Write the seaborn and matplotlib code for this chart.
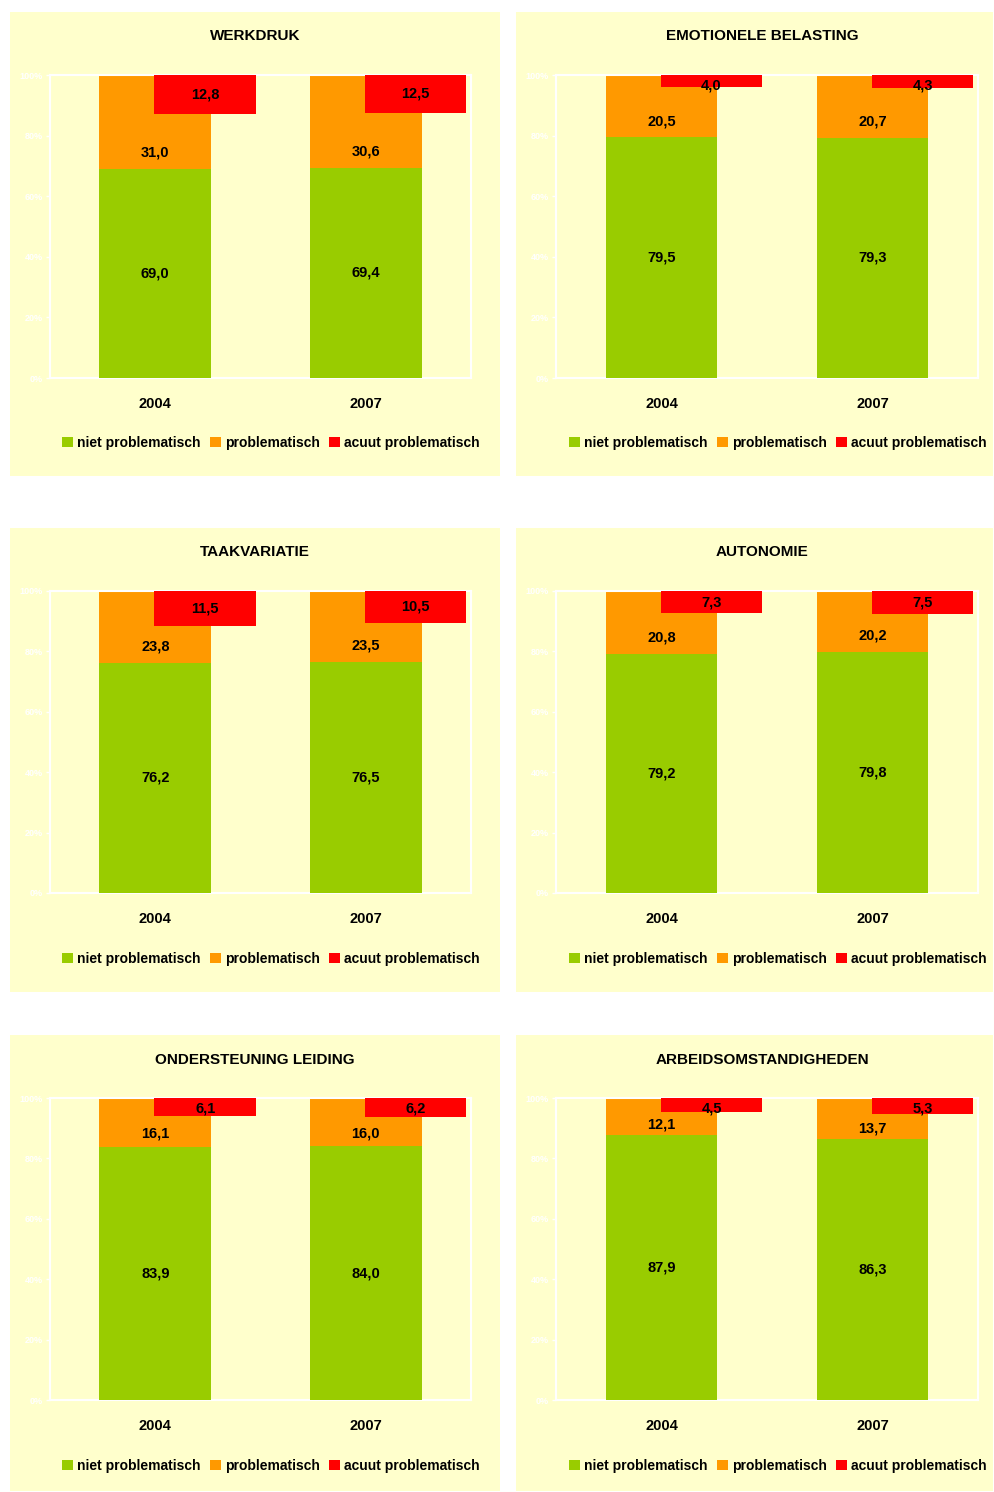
import numpy as np
import pandas as pd
import seaborn as sns
import matplotlib.pyplot as plt
from matplotlib import font_manager as fm
from matplotlib.patches import Rectangle, Patch

# data
themes = ["WERKDRUK", "EMOTIONELE BELASTING", "TAAKVARIATIE",
          "AUTONOMIE", "ONDERSTEUNING LEIDING", "ARBEIDSOMSTANDIGHEDEN"]
years = ["2004", "2007"]
niet = [[69.0, 69.4], [79.5, 79.3], [76.2, 76.5], [79.2, 79.8], [83.9, 84.0], [87.9, 86.3]]
probl = [[31.0, 30.6], [20.5, 20.7], [23.8, 23.5], [20.8, 20.2], [16.1, 16.0], [12.1, 13.7]]
acuut = [[12.8, 12.5], [4.0, 4.3], [11.5, 10.5], [7.3, 7.5], [6.1, 6.2], [4.5, 5.3]]
series_names = ["niet problematisch", "problematisch", "acuut problematisch"]
yticks = [0, 20, 40, 60, 80, 100]

GREEN = "#99CC00"
ORANGE = "#FF9900"
RED = "#FF0000"
BG = "#FFFFCC"

# narrow bold font if there is one
try:
    fm.findfont(fm.FontProperties(family="Liberation Sans Narrow"), fallback_to_default=False)
    NARROW = ["Liberation Sans Narrow", "DejaVu Sans"]
    nsize, lsize = 12, 11.5
except ValueError:
    NARROW = ["Liberation Sans", "DejaVu Sans"]
    nsize, lsize = 10.5, 10
WIDE = ["Liberation Sans", "DejaVu Sans"]

plt.rcParams["font.family"] = NARROW
plt.rcParams["font.weight"] = "bold"

W, H = 994, 1492
fig = plt.figure(figsize=(W / 100, H / 100), dpi=100)
fig.patch.set_facecolor("white")


def px_rect(x0, y0, x1, y1):
    return [x0 / W, 1 - y1 / H, (x1 - x0) / W, (y1 - y0) / H]


# panel layout (pixels)
col_panel = [(10, 500), (516, 993)]
col_axes = [(50, 471), (556, 978)]
col_title = [255, 762]
col_legend = [271, 778]
row_panel = [(12, 476), (528, 992), (1035, 1491)]
row_axes = [(75, 378), (591, 893), (1098, 1400)]
row_title = [36, 552, 1060]
row_legend = [443, 959, 1466]


def fmt(v):
    return f"{v:.1f}".replace(".", ",")


for k, theme in enumerate(themes):
    r, c = divmod(k, 2)
    px0, px1 = col_panel[c]
    py0, py1 = row_panel[r]
    fig.patches.append(Rectangle((px0 / W, 1 - py1 / H), (px1 - px0) / W, (py1 - py0) / H,
                                 transform=fig.transFigure, facecolor=BG, edgecolor="none",
                                 zorder=-10))

    ax = fig.add_axes(px_rect(col_axes[c][0], row_axes[r][0], col_axes[c][1], row_axes[r][1]))
    ax.set_facecolor(BG)

    df = pd.DataFrame({"jaar": years, "niet": niet[k], "probl": probl[k], "acuut": acuut[k]})
    df["totaal"] = df["niet"] + df["probl"]

    sns.barplot(data=df, x="jaar", y="totaal", color=ORANGE, saturation=1,
                width=0.53, ax=ax, linewidth=0, zorder=2)
    sns.barplot(data=df, x="jaar", y="niet", color=GREEN, saturation=1,
                width=0.53, ax=ax, linewidth=0, zorder=3)
    xpos = np.arange(len(years))
    ax.bar(xpos + 0.237, df["acuut"], width=0.483, bottom=100 - df["acuut"],
           color=RED, linewidth=0, zorder=4)

    for i in range(len(years)):
        g, o, a = df["niet"][i], df["probl"][i], df["acuut"][i]
        ax.text(i, g / 2, fmt(g), ha="center", va="center", fontsize=nsize, zorder=5)
        ax.text(i, g + min(5.3, 0.27 * o), fmt(o), ha="center", va="center", fontsize=nsize, zorder=5)
        ax.text(i + 0.237, 100 - max(a / 2, 3.5), fmt(a), ha="center", va="center",
                fontsize=nsize, zorder=5)

    ax.set_xlim(-0.5, 1.5)
    ax.set_ylim(0, 100)
    ax.set_yticks(yticks)
    ax.set_yticklabels([f"{t}%" for t in yticks], color="white", fontsize=6.5, family=WIDE)
    ax.tick_params(axis="y", colors="white", length=3, width=1, pad=2)
    ax.tick_params(axis="x", length=0, pad=14, labelsize=nsize)
    ax.set_xlabel("")
    ax.set_ylabel("")
    for s in ax.spines.values():
        s.set_color("white")
        s.set_linewidth(1.5)

    fig.text(col_title[c] / W, 1 - row_title[r] / H, theme, ha="center", va="center",
             fontsize=11, fontweight="bold", family=WIDE)

    handles = [Patch(facecolor=col, edgecolor="none") for col in (GREEN, ORANGE, RED)]
    fig.legend(handles, series_names, loc="center",
               bbox_to_anchor=(col_legend[c] / W, 1 - row_legend[r] / H),
               ncol=3, frameon=False, fontsize=lsize, handlelength=0.75, handleheight=0.75,
               handletextpad=0.3, columnspacing=0.7)

fig.savefig("out.png", dpi=100, facecolor="white")
